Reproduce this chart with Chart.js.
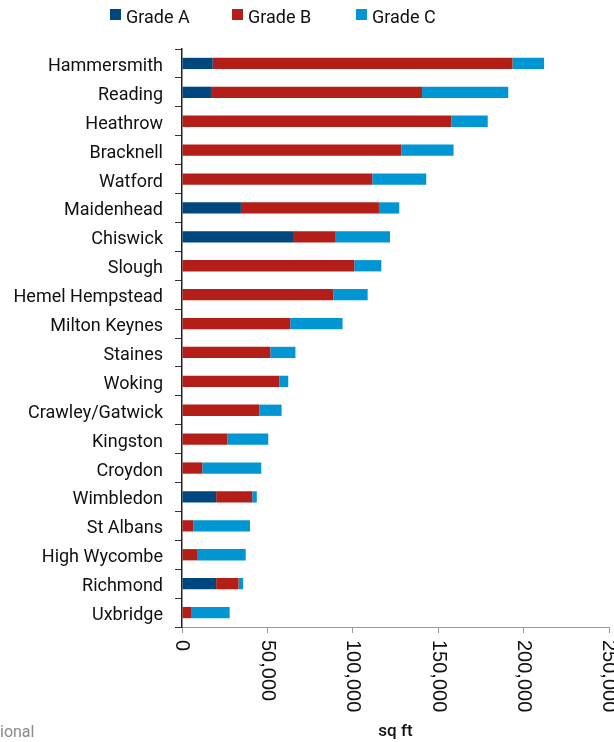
<!DOCTYPE html>
<html>
<head>
<meta charset="utf-8">
<script src="https://cdn.jsdelivr.net/npm/chart.js@4"></script>
<style>
  html, body { margin: 0; padding: 0; background: #fff; }
  #wrap { position: relative; width: 614px; height: 742px; overflow: hidden; }
  #legend { position: absolute; top: 0; left: 0; width: 614px; height: 40px; font-family: Roboto, sans-serif; font-weight: 400; font-size: 18px; color: #111; }
  .li { position: absolute; top: 6px; height: 22px; line-height: 22px; white-space: nowrap; }
  .li span.box { position: absolute; left: 0; top: 3px; width: 11px; height: 11px; }
  .li span.txt { position: absolute; left: 16px; top: 0; }
  #src { position: absolute; left: 0; top: 722px; font-family: Roboto, sans-serif; font-size: 16px; color: #8a8a8a; }
</style>
</head>
<body>
<div id="wrap">
  <canvas id="c" width="614" height="742"></canvas>
  <div id="legend"></div>
  <div id="src">ional</div>
</div>
<script>
const categories = ['Hammersmith','Reading','Heathrow','Bracknell','Watford','Maidenhead','Chiswick','Slough','Hemel Hempstead','Milton Keynes','Staines','Woking','Crawley/Gatwick','Kingston','Croydon','Wimbledon','St Albans','High Wycombe','Richmond','Uxbridge'];
const gradeA = [18000, 17000, 0, 0, 0, 34500, 65000, 0, 0, 0, 0, 0, 0, 0, 0, 20000, 0, 0, 20000, 0];
const gradeB = [175500, 123500, 157700, 128400, 111400, 80800, 25000, 100900, 88600, 63400, 51700, 57000, 45300, 26500, 11900, 21100, 6600, 9200, 13100, 5300];
const gradeC = [18500, 50500, 21300, 30600, 31600, 11900, 31800, 15800, 20100, 30600, 14700, 5200, 13000, 24000, 34500, 2700, 33200, 28100, 2700, 22600];
const seriesNames = ['Grade A', 'Grade B', 'Grade C'];
const xTickValues = [0, 50000, 100000, 150000, 200000, 250000];
const xTitle = 'sq ft';

const colors = ['#00467f', '#b31e19', '#0095d3'];
const legendLeft = [110, 232, 356];

// HTML legend
const lg = document.getElementById('legend');
seriesNames.forEach((n, i) => {
  const d = document.createElement('div');
  d.className = 'li';
  d.style.left = legendLeft[i] + 'px';
  d.innerHTML = '<span class="box" style="background:' + colors[i] + '"></span><span class="txt">' + n + '</span>';
  lg.appendChild(d);
});

const xLabelsPlugin = {
  id: 'xLabels',
  afterDraw(chart) {
    const sc = chart.scales.x;
    const ctx = chart.ctx;
    ctx.save();
    ctx.font = '20px "Liberation Sans", Arial, sans-serif';
    ctx.fillStyle = '#111';
    ctx.textAlign = 'left';
    ctx.textBaseline = 'middle';
    xTickValues.forEach(v => {
      const x = sc.getPixelForValue(v);
      ctx.save();
      ctx.translate(x, sc.top + 13);
      ctx.rotate(Math.PI / 2);
      ctx.fillText(v.toLocaleString('en-US'), 0, 0);
      ctx.restore();
    });
    ctx.restore();
  }
};

const data = [gradeA, gradeB, gradeC];
new Chart(document.getElementById('c'), {
  type: 'bar',
  data: {
    labels: categories,
    datasets: seriesNames.map((n, i) => ({
      label: n,
      data: data[i],
      backgroundColor: colors[i],
      borderWidth: 0,
      barPercentage: 0.39,
      categoryPercentage: 1
    }))
  },
  options: {
    indexAxis: 'y',
    responsive: false,
    animation: false,
    devicePixelRatio: 1,
    layout: { padding: { top: 49, right: 5, left: 0, bottom: 0 } },
    plugins: { legend: { display: false }, tooltip: { enabled: false } },
    scales: {
      x: {
        stacked: true,
        min: 0,
        max: 250000,
        afterBuildTicks(s) { s.ticks = xTickValues.map(v => ({ value: v })); },
        afterFit(s) { s.height = 115; },
        ticks: { display: false },
        grid: { drawOnChartArea: false, drawTicks: true, tickLength: 6, color: '#9a9a9a', lineWidth: 1 },
        border: { display: true, color: '#9a9a9a', width: 1 },
        title: {
          display: true,
          text: xTitle,
          color: '#111',
          font: { family: 'Roboto', size: 17, weight: '500' },
          padding: { top: 0, bottom: 0 }
        }
      },
      y: {
        stacked: true,
        afterFit(s) { s.width = 182; },
        ticks: {
          color: '#111',
          font: { family: 'Roboto', size: 18, weight: '400' },
          padding: 12,
          labelOffset: 3,
          autoSkip: false
        },
        grid: { drawOnChartArea: false, drawTicks: true, tickLength: 7, color: '#333', offset: true },
        border: { display: true, color: '#222', width: 1.5 }
      }
    }
  },
  plugins: [xLabelsPlugin]
});
</script>
</body>
</html>
